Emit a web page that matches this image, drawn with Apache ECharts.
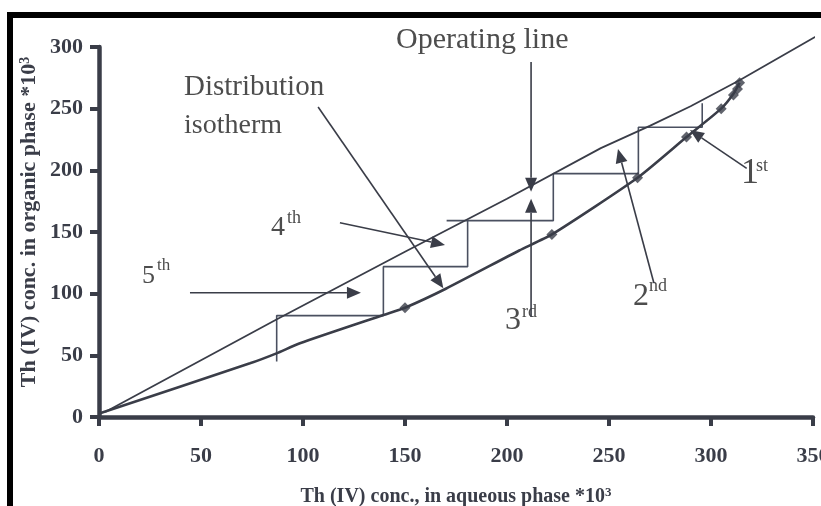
<!DOCTYPE html>
<html><head><meta charset="utf-8">
<script src="https://cdn.jsdelivr.net/npm/echarts@6/dist/echarts.min.js"></script>
<style>html,body{margin:0;padding:0;background:#fff;overflow:hidden}#c{width:821px;height:506px}</style>
</head><body><div id="c"></div>
<script>
// ---- data ----
const xTicks = [0, 50, 100, 150, 200, 250, 300, 350];
const yTicks = [0, 50, 100, 150, 200, 250, 300];
// operating line
const opX = [3, 87, 150, 200, 246, 270, 290, 314, 354];
const opY = [4, 79, 134, 177, 218, 236, 252, 273, 311];
// distribution isotherm (curve)
const isoX = [0.5, 74, 87, 98.5, 139.4, 150, 170, 206, 222, 264, 288, 305, 311, 314];
const isoY = [3, 43.5, 51.6, 59.8, 82.7, 88.6, 104, 135, 148, 194, 227, 250, 262, 271];
// measured points on the isotherm (diamonds)
const ptX = [150, 222, 264, 288, 305, 311, 313, 314];
const ptY = [88.6, 148, 194, 227, 250, 261, 266, 271];
// stage construction (staircase)
const stairX = [295.7, 295.7, 264.4, 264.4, 222.7, 222.7, 170.4, 180.7, 180.7, 139.4, 139.4, 87.1, 87.1];
const stairY = [254.3, 234.9, 234.9, 197.3, 197.3, 159.2, 159.2, 159.2, 121.9, 121.9, 82.2, 82.2, 44.9];
// annotation arrows: start -> tip (data units)
const arrowX1 = [211.8, 211.8, 272, 317.5, 107.4, 118.1, 44.6];
const arrowY1 = [287.8, 81, 108.7, 201.6, 251.4, 157.5, 100.8];
const arrowX2 = [211.8, 211.8, 254.4, 289.7, 168.8, 169.6, 128.4];
const arrowY2 = [182.7, 177, 217.3, 232.7, 104.4, 139.5, 100.8];

const zip = (a, b) => a.map((v, i) => [v, b[i]]);
const INK = '#3a3d48';
const TXT = '#4d4d4d';
const SERIF = '"Liberation Serif","Times New Roman",serif';

const chart = echarts.init(document.getElementById('c'), null, {renderer: 'canvas'});

function txt(x, y, s, size, extra) {
  return Object.assign({
    type: 'text', x: x, y: y,
    style: {text: s, fill: TXT, font: size + 'px ' + SERIF, verticalAlign: 'middle', align: 'left'}
  }, extra || {});
}
function ordinal(x, y, d, sup, size, supSize, supX, supDy) {
  return [txt(x, y, d, size), txt(supX, y + supDy, sup, supSize)];
}

const option = {
  animation: false,
  backgroundColor: '#ffffff',
  grid: {left: 99, right: 8, top: 47, bottom: 89, containLabel: false, outerBoundsMode: 'none'},
  xAxis: {
    type: 'value', min: xTicks[0], max: xTicks[xTicks.length - 1], interval: 50,
    splitLine: {show: false},
    axisLine: {show: true, onZero: false, lineStyle: {color: INK, width: 4.5}},
    axisTick: {show: true, length: 9, lineStyle: {color: INK, width: 4}},
    axisLabel: {margin: 28, color: INK, fontFamily: SERIF, fontWeight: 'bold', fontSize: 22, hideOverlap: false}
  },
  yAxis: {
    type: 'value', min: yTicks[0], max: yTicks[yTicks.length - 1], interval: 50,
    splitLine: {show: false},
    axisLine: {show: true, onZero: false, lineStyle: {color: INK, width: 4.5}},
    axisTick: {show: true, length: 9, lineStyle: {color: INK, width: 4}},
    axisLabel: {margin: 16, color: INK, fontFamily: SERIF, fontWeight: 'bold', fontSize: 22}
  },
  series: [
    {type: 'line', name: 'Operating line', data: zip(opX, opY), showSymbol: false, clip: false,
      lineStyle: {color: INK, width: 1.8}, z: 3},
    {type: 'line', name: 'Distribution isotherm', data: zip(isoX, isoY), showSymbol: false, smooth: 0.2,
      lineStyle: {color: INK, width: 2.6}, z: 3},
    {type: 'scatter', name: 'points', data: zip(ptX, ptY), symbol: 'diamond', symbolSize: 11,
      itemStyle: {color: INK}, z: 4},
    {type: 'line', name: 'stages', data: zip(stairX, stairY), showSymbol: false,
      lineStyle: {color: '#4a5060', width: 1.6}, z: 2},
    {type: 'custom', name: 'arrows', z: 5,
      data: arrowX1.map((v, i) => [v, arrowY1[i], arrowX2[i], arrowY2[i]]),
      renderItem: function (params, api) {
        const p1 = api.coord([api.value(0), api.value(1)]);
        const p2 = api.coord([api.value(2), api.value(3)]);
        const dx = p2[0] - p1[0], dy = p2[1] - p1[1];
        const L = Math.hypot(dx, dy), ux = dx / L, uy = dy / L;
        const hl = 14, hw = 6;
        const bx = p2[0] - ux * hl, by = p2[1] - uy * hl;
        return {type: 'group', children: [
          {type: 'line', shape: {x1: p1[0], y1: p1[1], x2: bx, y2: by}, style: {stroke: INK, lineWidth: 1.6}},
          {type: 'polygon', shape: {points: [[p2[0], p2[1]], [bx - uy * hw, by + ux * hw], [bx + uy * hw, by - ux * hw]]},
            style: {fill: INK}}
        ]};
      }
    }
  ],
  graphic: [
    {type: 'rect', shape: {x: 7, y: 12, width: 814, height: 6}, style: {fill: '#000'}, z: 100},
    {type: 'rect', shape: {x: 7, y: 12, width: 6, height: 494}, style: {fill: '#000'}, z: 100},
    // axis titles
    {type: 'text', x: 29, y: 222, rotation: Math.PI / 2,
      style: {text: '{a|Th (IV) conc. in organic phase *10}{s|3}', align: 'center', verticalAlign: 'middle',
        rich: {a: {font: 'bold 22px ' + SERIF, fill: INK}, s: {font: 'bold 14px ' + SERIF, fill: INK, padding: [0, 0, 8, 0]}}}},
    {type: 'text', x: 456, y: 497,
      style: {text: '{a|Th (IV) conc., in aqueous phase *10}{s|3}', align: 'center', verticalAlign: 'middle',
        rich: {a: {font: 'bold 20px ' + SERIF, fill: INK}, s: {font: 'bold 13px ' + SERIF, fill: INK, padding: [0, 0, 8, 0]}}}},
    txt(396, 40, 'Operating line', 30),
    txt(184, 87, 'Distribution', 29),
    txt(184, 126, 'isotherm', 28),
    ...ordinal(142, 276, '5', 'th', 26, 17, 157, -10),
    ...ordinal(271, 228, '4', 'th', 28, 18, 287, -10),
    ...ordinal(505, 321, '3', 'rd', 32, 18, 522, -9),
    ...ordinal(633, 297, '2', 'nd', 32, 18, 649, -11),
    ...ordinal(741, 174, '1', 'st', 36, 18, 756, -8)
  ]
};
chart.setOption(option);
</script>
</body></html>
